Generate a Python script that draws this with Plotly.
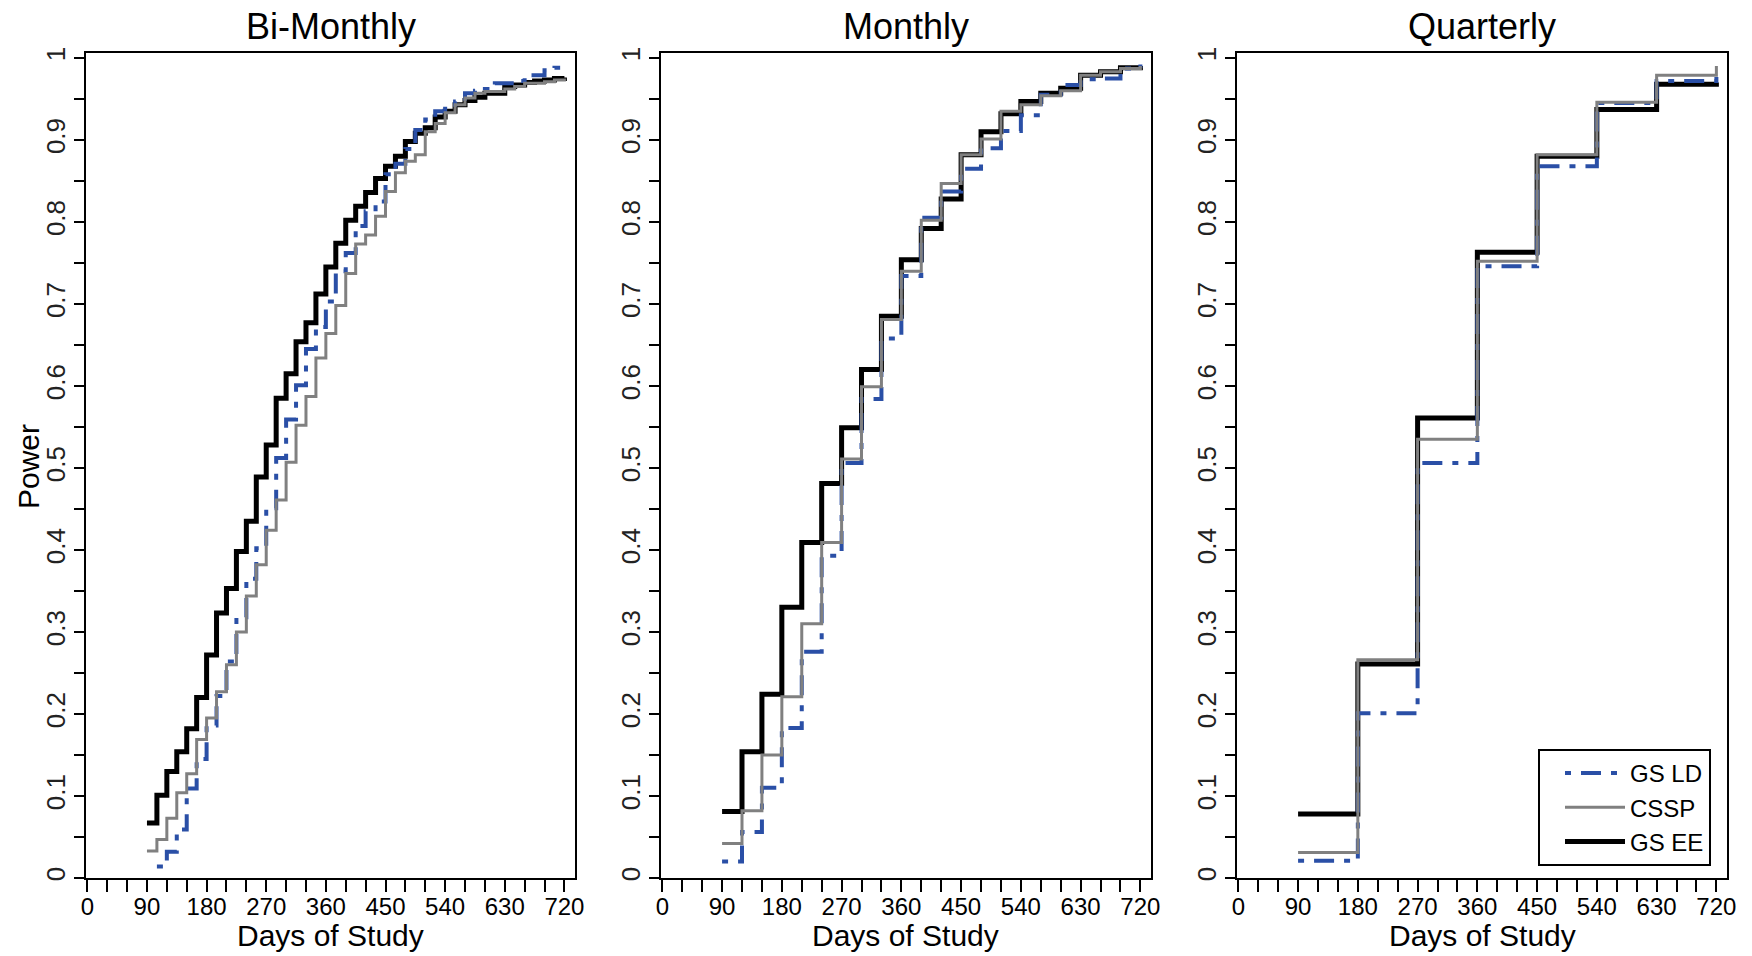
import plotly.graph_objects as go

# ---------------- data ----------------
days_bimonthly = [90, 105, 120, 135, 150, 165, 180, 195, 210, 225, 240, 255, 270, 285, 300,
                  315, 330, 345, 360, 375, 390, 405, 420, 435, 450, 465, 480, 495, 510, 525,
                  540, 555, 570, 585, 600, 615, 630, 645, 660, 675, 690, 705, 720]
days_monthly = [90, 120, 150, 180, 210, 240, 270, 300, 330, 360, 390, 420, 450, 480, 510,
                540, 570, 600, 630, 660, 690, 720]
days_quarterly = [90, 180, 270, 360, 450, 540, 630, 720]

bim_gs_ld = [None, 0.014, 0.032, 0.059, 0.109, 0.145, 0.186, 0.222, 0.264, 0.318, 0.365,
             0.402, 0.451, 0.512, 0.559, 0.601, 0.645, 0.672, 0.703, 0.740, 0.762, 0.795,
             0.813, 0.825, 0.858, 0.871, 0.889, 0.912, 0.925, 0.935, 0.938, 0.947, 0.957,
             0.960, 0.962, 0.969, 0.969, 0.972, 0.979, 0.979, 0.985, 0.988, 0.990]
bim_cssp = [0.033, 0.047, 0.073, 0.104, 0.127, 0.169, 0.195, 0.227, 0.260, 0.300, 0.344,
            0.382, 0.424, 0.461, 0.507, 0.552, 0.587, 0.634, 0.664, 0.698, 0.737, 0.773,
            0.784, 0.807, 0.837, 0.860, 0.874, 0.882, 0.910, 0.920, 0.933, 0.943, 0.951,
            0.957, 0.959, 0.959, 0.962, 0.965, 0.969, 0.969, 0.971, 0.973, 0.975]
bim_gs_ee = [0.067, 0.101, 0.130, 0.154, 0.182, 0.220, 0.272, 0.323, 0.353, 0.398, 0.435,
             0.489, 0.528, 0.585, 0.615, 0.654, 0.677, 0.712, 0.745, 0.774, 0.802, 0.819,
             0.836, 0.853, 0.868, 0.880, 0.898, 0.908, 0.915, 0.928, 0.935, 0.943, 0.948,
             0.952, 0.957, 0.957, 0.965, 0.967, 0.970, 0.972, 0.973, 0.975, 0.976]

mon_gs_ld = [0.020, 0.056, 0.110, 0.183, 0.276, 0.393, 0.506, 0.584, 0.658, 0.734, 0.805,
             0.837, 0.865, 0.890, 0.911, 0.930, 0.955, 0.967, 0.974, 0.975, 0.987, 0.992]
mon_cssp = [0.042, 0.082, 0.150, 0.221, 0.310, 0.409, 0.511, 0.599, 0.681, 0.740, 0.802,
            0.847, 0.882, 0.901, 0.935, 0.943, 0.954, 0.960, 0.979, 0.983, 0.987, 0.990]
mon_gs_ee = [0.081, 0.154, 0.224, 0.330, 0.409, 0.481, 0.549, 0.620, 0.685, 0.754, 0.792,
             0.828, 0.882, 0.910, 0.932, 0.947, 0.957, 0.963, 0.979, 0.983, 0.988, 0.990]

qtr_gs_ld = [0.021, 0.201, 0.506, 0.746, 0.868, 0.945, 0.972, 0.978]
qtr_cssp = [0.031, 0.266, 0.535, 0.752, 0.882, 0.946, 0.979, 0.990]
qtr_gs_ee = [0.078, 0.261, 0.561, 0.763, 0.880, 0.937, 0.968, 0.970]

panel_titles = ["Bi-Monthly", "Monthly", "Quarterly"]
x_title = "Days of Study"
y_title = "Power"
x_tick_vals = [0, 90, 180, 270, 360, 450, 540, 630, 720]
y_tick_vals = [0, 0.1, 0.2, 0.3, 0.4, 0.5, 0.6, 0.7, 0.8, 0.9, 1]
y_tick_text = ["0", "0.1", "0.2", "0.3", "0.4", "0.5", "0.6", "0.7", "0.8", "0.9", "1"]

# ---------------- styles / geometry ----------------
W, H = 1752, 956
FONT = "Liberation Sans, Arial, sans-serif"
BLUE = "#2a4fa6"
GRAY = "#808080"
styles = {
    "GS EE": dict(color="black", width=5, dash="solid"),
    "GS LD": dict(color=BLUE, width=4, dash="6px,10px,20px,10px"),
    "CSSP": dict(color=GRAY, width=3, dash="solid"),
}
ranks = {"GS LD": 1, "CSSP": 2, "GS EE": 3}

panels = [
    (days_bimonthly, {"GS LD": bim_gs_ld, "CSSP": bim_cssp, "GS EE": bim_gs_ee}),
    (days_monthly, {"GS LD": mon_gs_ld, "CSSP": mon_cssp, "GS EE": mon_gs_ee}),
    (days_quarterly, {"GS LD": qtr_gs_ld, "CSSP": qtr_cssp, "GS EE": qtr_gs_ee}),
]


def px_x(v):  # page pixel -> paper fraction
    return v / W


def px_y(v):
    return (H - v) / H


boxes_px = [(86, 575), (661, 1151), (1237, 1727)]
top_px, bottom_px = 53, 878

fig = go.Figure()
draw_order = ["GS EE", "GS LD", "CSSP"]
for i, (days, data) in enumerate(panels):
    xa = "x" if i == 0 else f"x{i+1}"
    ya = "y" if i == 0 else f"y{i+1}"
    for name in draw_order:
        st = styles[name]
        fig.add_trace(go.Scatter(
            x=days, y=data[name], mode="lines", name=name,
            line=dict(color=st["color"], width=st["width"], dash=st["dash"], shape="hv"),
            xaxis=xa, yaxis=ya, showlegend=(i == 2), legendrank=ranks[name],
            connectgaps=False, hoverinfo="skip",
        ))

ydom = [px_y(bottom_px), px_y(top_px)]
layout = dict(
    width=W, height=H, autosize=False,
    margin=dict(l=0, r=0, t=0, b=0, pad=0),
    paper_bgcolor="white", plot_bgcolor="white",
    font=dict(family=FONT, color="black"),
    legend=dict(
        x=px_x(1711), xanchor="right", y=px_y(866), yanchor="bottom",
        bgcolor="white", bordercolor="black", borderwidth=2,
        font=dict(size=24, family=FONT, color="black"),
        traceorder="normal", itemwidth=60, indentation=20, tracegroupgap=0,
    ),
    annotations=[],
)
for i, (l, r) in enumerate(boxes_px):
    sfx = "" if i == 0 else str(i + 1)
    layout["xaxis" + sfx] = dict(
        domain=[px_x(l), px_x(r)], range=[-2, 736], anchor="y" + sfx, automargin=False,
        showline=True, linecolor="black", linewidth=2, mirror=True,
        showgrid=False, zeroline=False,
        tickmode="array", tickvals=x_tick_vals,
        ticks="outside", ticklen=12, tickwidth=2, tickcolor="black",
        minor=dict(dtick=30, tick0=0, ticks="outside", ticklen=12, tickwidth=2,
                   tickcolor="black", showgrid=False),
        tickfont=dict(size=24, family=FONT, color="black"),
        ticklabelstandoff=-6,
        fixedrange=True,
    )
    layout["yaxis" + sfx] = dict(
        domain=ydom, range=[0, 1.006], anchor="x" + sfx, automargin=False,
        showline=True, linecolor="black", linewidth=2, mirror=True,
        showgrid=False, zeroline=False,
        tickmode="array", tickvals=y_tick_vals, ticktext=y_tick_text, tickangle=-90,
        ticks="outside", ticklen=10, tickwidth=2, tickcolor="black",
        minor=dict(dtick=0.05, tick0=0, ticks="outside", ticklen=10, tickwidth=2,
                   tickcolor="black", showgrid=False),
        tickfont=dict(size=26, family=FONT, color="#222222"),
        ticklabelstandoff=-1,
        fixedrange=True,
    )
    # panel title
    layout["annotations"].append(dict(
        text=panel_titles[i], xref="paper", yref="paper",
        x=px_x((l + r) / 2), y=px_y(26), xanchor="center", yanchor="middle",
        showarrow=False, font=dict(size=36, family=FONT, color="black"),
    ))
    # x-axis title
    layout["annotations"].append(dict(
        text=x_title, xref="paper", yref="paper",
        x=px_x((l + r) / 2), y=px_y(935), xanchor="center", yanchor="middle",
        showarrow=False, font=dict(size=30, family=FONT, color="black"),
    ))
# y-axis title
layout["annotations"].append(dict(
    text=y_title, xref="paper", yref="paper", textangle=-90,
    x=px_x(28), y=px_y(467), xanchor="center", yanchor="middle",
    showarrow=False, font=dict(size=30, family=FONT, color="black"),
))

fig.update_layout(**layout)
fig.write_html(
    "out.html",
    config={"displayModeBar": False, "staticPlot": True},
    post_script="document.body.style.margin='0px';document.body.style.overflow='hidden';",
)
